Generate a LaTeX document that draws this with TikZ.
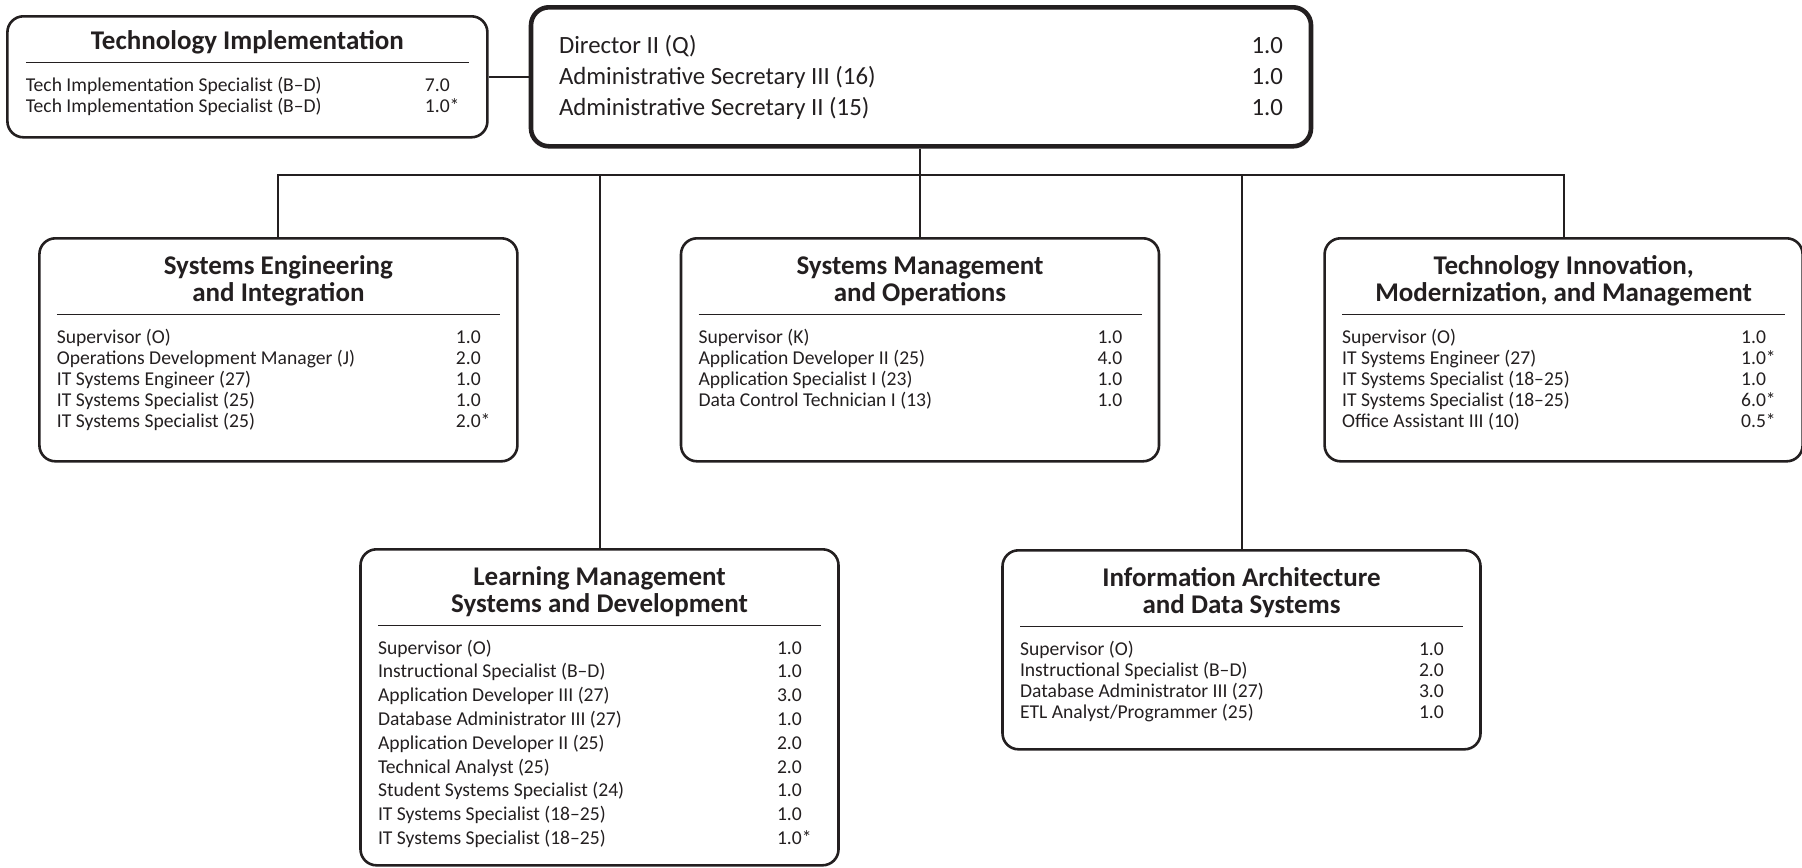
\documentclass[tikz,border=0pt]{standalone}
\usepackage{fontspec}
\setmainfont{Carlito}
\usetikzlibrary{positioning}

\definecolor{ink}{HTML}{231F20}

\newlength{\cardw}
\setlength{\cardw}{221.5pt}
\newcommand{\headfont}{\fontsize{13.5}{13.5}\selectfont\bfseries}
\newcommand{\bossfont}{\fontsize{12.4}{15.75}\selectfont}
% one line of a unit: position on the left, FTE in its own column
\newcommand{\post}[2]{\hbox to \hsize{\vrule height 7pt depth 2.5pt width 0pt #1\hfill\makebox[22pt][l]{#2}}}
\newcommand{\bosspost}[2]{\hbox to \hsize{\strut #1\hfill #2}}
% unit card: bold heading, rule, list of posts ([line pitch])
\newcommand{\card}[3][10.5pt]{\parbox[t]{\cardw}{\centering{\headfont #2\strut\par}%
  \nointerlineskip\vspace{2.5pt}\hrule height 0.6pt\relax\vspace{6.7pt}%
  \fontsize{9.8}{#1}\selectfont #3}}

\begin{document}
\begin{tikzpicture}[x=0.5pt, y=-0.5pt]
    % Styles
    \tikzset{
        unit/.style={draw=ink, line width=1.3pt, rounded corners=8pt, anchor=north, minimum width=239pt, inner sep=0pt},
        boss/.style={unit, line width=2.3pt, rounded corners=9pt, minimum width=390pt, minimum height=69.5pt},
        unit_text/.style={anchor=base, inner sep=0pt, text=ink},
        link/.style={draw=ink, line width=1pt}
    }
    \useasboundingbox (0,0) rectangle (1802,867);

    % --- Boxes ---

    % Top: Director
    \node[boss] (director) at (921,5) {};
    \node[unit_text] (director_text) at ([yshift=-24pt]director.north) {\parbox[t]{362pt}{\bossfont
        \bosspost{Director II (Q)}{1.0}
        \bosspost{Administrative Secretary III (16)}{1.0}
        \bosspost{Administrative Secretary II (15)}{1.0}}};

    % Left of Director: Technology Implementation
    \node[unit, minimum width=240pt, minimum height=60.5pt, left=20pt of director] (tech) {};
    \node[unit_text] (tech_text) at ([yshift=-17pt]tech.north) {\card{Technology Implementation}{
        \post{Tech Implementation Specialist (B–D)}{7.0}
        \post{Tech Implementation Specialist (B–D)}{1.0*}}};

    % Upper row
    \node[unit, minimum height=111.5pt] (smo) at (920,237) {};
    \node[unit, minimum height=111.5pt, left=80.5pt of smo] (sei) {};
    \node[unit, minimum height=111.5pt, right=81.5pt of smo] (timm) {};

    \node[unit_text] (sei_text) at ([yshift=-18.5pt]sei.north) {\card{Systems Engineering\\and Integration}{
        \post{Supervisor (O)}{1.0}
        \post{Operations Development Manager (J)}{2.0}
        \post{IT Systems Engineer (27)}{1.0}
        \post{IT Systems Specialist (25)}{1.0}
        \post{IT Systems Specialist (25)}{2.0*}}};

    \node[unit_text] (smo_text) at ([yshift=-18.5pt]smo.north) {\card{Systems Management\\and Operations}{
        \post{Supervisor (K)}{1.0}
        \post{Application Developer II (25)}{4.0}
        \post{Application Specialist I (23)}{1.0}
        \post{Data Control Technician I (13)}{1.0}}};

    \node[unit_text] (timm_text) at ([yshift=-18.5pt]timm.north) {\card{Technology Innovation,\\Modernization, and Management}{
        \post{Supervisor (O)}{1.0}
        \post{IT Systems Engineer (27)}{1.0*}
        \post{IT Systems Specialist (18–25)}{1.0}
        \post{IT Systems Specialist (18–25)}{6.0*}
        \post{Office Assistant III (10)}{0.5*}}};

    % Lower row
    \node[unit, minimum height=158pt] (lms) at (599.5,548) {};
    \node[unit, minimum height=99.5pt] (iads) at (1241.5,549) {};

    \node[unit_text] (lms_text) at ([yshift=-18.5pt]lms.north) {\card[11.9pt]{Learning Management\\Systems and Development}{
        \post{Supervisor (O)}{1.0}
        \post{Instructional Specialist (B–D)}{1.0}
        \post{Application Developer III (27)}{3.0}
        \post{Database Administrator III (27)}{1.0}
        \post{Application Developer II (25)}{2.0}
        \post{Technical Analyst (25)}{2.0}
        \post{Student Systems Specialist (24)}{1.0}
        \post{IT Systems Specialist (18–25)}{1.0}
        \post{IT Systems Specialist (18–25)}{1.0*}}};

    \node[unit_text] (iads_text) at ([yshift=-18.5pt]iads.north) {\card{Information Architecture\\and Data Systems}{
        \post{Supervisor (O)}{1.0}
        \post{Instructional Specialist (B–D)}{2.0}
        \post{Database Administrator III (27)}{3.0}
        \post{ETL Analyst/Programmer (25)}{1.0}}};

    % --- Connections ---
    \coordinate (bus) at (920,175);

    \draw[link] (tech.east) -- (director.west);
    \draw[link] (director.south -| smo.north) -- (smo.north);
    \draw[link] (sei.north) -- (sei.north |- bus) -- (timm.north |- bus) -- (timm.north);
    \draw[link] (lms.north |- bus) -- (lms.north);
    \draw[link] (iads.north |- bus) -- (iads.north);

\end{tikzpicture}
\end{document}
